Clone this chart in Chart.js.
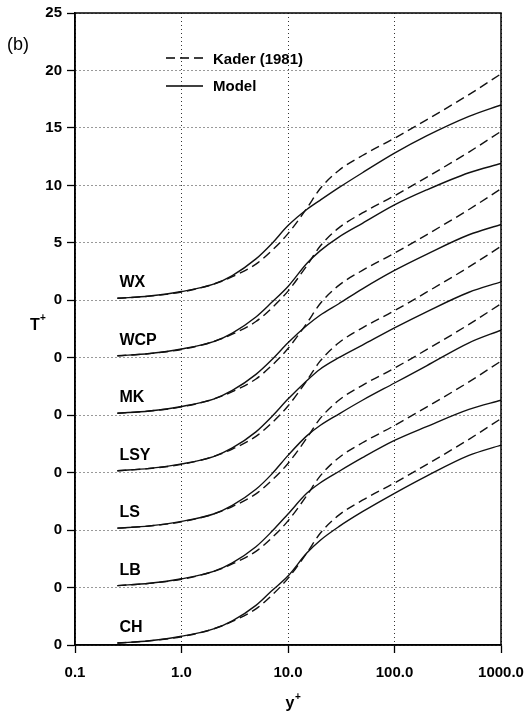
<!DOCTYPE html>
<html><head><meta charset="utf-8">
<script src="https://cdn.jsdelivr.net/npm/chart.js@4/dist/chart.umd.min.js"></script>
<style>html,body{margin:0;padding:0;background:#fff;}#wrap{width:528px;height:713px;}</style>
</head><body><div id="wrap"><canvas id="c" width="528" height="713"></canvas></div>
<script>
// ---- data ----
const yPlus   = [0.25, 0.5, 1, 2, 3, 5, 7, 10, 15, 20, 30, 50, 100, 200, 500, 1000];
const kader   = [0.17, 0.36, 0.72, 1.4, 2.05, 3.15, 4.3, 5.8, 8.0, 9.7, 11.3, 12.6, 14.1, 15.7, 17.9, 19.7];
const modelWX  = [0.17, 0.37, 0.76, 1.4, 2.15, 3.6, 4.9, 6.5, 7.9, 8.7, 9.8, 11.1, 12.8, 14.3, 16.0, 17.0];
const modelWCP = [0.17, 0.37, 0.76, 1.4, 2.15, 3.55, 4.8, 6.2, 8.2, 9.3, 10.5, 11.7, 13.3, 14.6, 16.1, 16.9];
const modelMK  = [0.17, 0.37, 0.76, 1.4, 2.15, 3.55, 4.8, 6.3, 7.8, 8.7, 9.7, 11.0, 12.6, 14.0, 15.7, 16.6];
const modelLSY = [0.17, 0.37, 0.76, 1.4, 2.15, 3.55, 4.85, 6.4, 8.0, 9.0, 10.0, 11.1, 12.6, 14.0, 15.7, 16.6];
const modelLS  = [0.17, 0.37, 0.76, 1.4, 2.15, 3.55, 4.85, 6.5, 8.2, 9.1, 10.1, 11.3, 12.8, 14.3, 16.3, 17.4];
const modelLB  = [0.17, 0.37, 0.76, 1.4, 2.15, 3.55, 4.85, 6.4, 8.2, 9.1, 10.1, 11.3, 12.8, 14.0, 15.5, 16.3];
const modelCH  = [0.17, 0.37, 0.76, 1.4, 2.1, 3.45, 4.7, 6.0, 8.0, 9.1, 10.3, 11.6, 13.2, 14.7, 16.5, 17.4];
const curveNames = ['WX', 'WCP', 'MK', 'LSY', 'LS', 'LB', 'CH'];
const models = [modelWX, modelWCP, modelMK, modelLSY, modelLS, modelLB, modelCH];
const curveShift = [0, -5, -10, -15, -20, -25, -30];
const xTicks = [0.1, 1, 10, 100, 1000];
const xTickLabels = ['0.1', '1.0', '10.0', '100.0', '1000.0'];
const yTicks = [25, 20, 15, 10, 5, 0, -5, -10, -15, -20, -25, -30];
const yTickLabels = ['25', '20', '15', '10', '5', '0', '0', '0', '0', '0', '0', '0'];
const legendLabels = ['Kader (1981)', 'Model'];

// ---- build datasets ----
const datasets = [];
models.forEach((m, i) => {
  datasets.push({
    label: 'Kader ' + curveNames[i],
    data: yPlus.map((x, j) => ({x: x, y: kader[j] + curveShift[i]})),
    borderColor: '#111', borderWidth: 1.4, borderDash: [9, 5],
    pointRadius: 0, fill: false, cubicInterpolationMode: 'monotone'
  });
  datasets.push({
    label: 'Model ' + curveNames[i],
    data: yPlus.map((x, j) => ({x: x, y: m[j] + curveShift[i]})),
    borderColor: '#111', borderWidth: 1.4,
    pointRadius: 0, fill: false, cubicInterpolationMode: 'monotone'
  });
});

const FONT = '"Liberation Sans", Arial, sans-serif';

const decor = {
  id: 'decor',
  afterDraw(chart) {
    const {ctx, chartArea: ca, scales: {x, y}} = chart;
    ctx.save();
    // frame
    ctx.strokeStyle = '#000'; ctx.lineWidth = 1.5; ctx.setLineDash([]);
    ctx.strokeRect(ca.left, ca.top, ca.right - ca.left, ca.bottom - ca.top);
    ctx.fillStyle = '#000';
    // curve labels
    ctx.font = 'bold 16px ' + FONT;
    ctx.textBaseline = 'middle'; ctx.textAlign = 'left';
    const lx = x.getPixelForValue(yPlus[0]) + 2;
    curveNames.forEach((n, i) => {
      ctx.fillText(n, lx, y.getPixelForValue(curveShift[i] + 1.5));
    });
    // legend
    const l0 = 166, l1 = 203, ly1 = 58, ly2 = 86;
    ctx.lineWidth = 1.4;
    ctx.setLineDash([9, 5]);
    ctx.beginPath(); ctx.moveTo(l0, ly1); ctx.lineTo(l1, ly1); ctx.stroke();
    ctx.setLineDash([]);
    ctx.beginPath(); ctx.moveTo(l0, ly2); ctx.lineTo(l1, ly2); ctx.stroke();
    ctx.font = 'bold 15px ' + FONT;
    ctx.fillText(legendLabels[0], 213, ly1 + 2);
    ctx.fillText(legendLabels[1], 213, ly2 + 1);
    // panel tag
    ctx.font = '18px ' + FONT;
    ctx.fillText('(b)', 7, 45);
    // axis titles
    ctx.font = 'bold 16px ' + FONT;
    ctx.textAlign = 'center';
    ctx.fillText('T', 35, 326);
    ctx.fillText('y', 290, 704);
    ctx.font = 'bold 10px ' + FONT;
    ctx.fillText('+', 43, 318);
    ctx.fillText('+', 298, 697);
    ctx.restore();
  }
};

new Chart(document.getElementById('c'), {
  type: 'line',
  data: {datasets},
  plugins: [decor],
  options: {
    responsive: false, animation: false, devicePixelRatio: 1,
    layout: {padding: {left: 0, right: 27, top: 13, bottom: 0}},
    plugins: {legend: {display: false}, tooltip: {enabled: false}},
    scales: {
      x: {
        type: 'logarithmic', min: 0.1, max: 1000,
        afterBuildTicks: s => { s.ticks = xTicks.map(v => ({value: v})); },
        afterFit: s => { s.height = 68; s.paddingLeft = 0; s.paddingRight = 0; },
        ticks: {
          autoSkip: false, maxRotation: 0, padding: 11, color: '#000',
          font: {family: FONT, size: 15, weight: 'bold'},
          callback: (v) => { const k = xTicks.findIndex(t => Math.abs(t - v) < 1e-9 * Math.max(1, t)); return k >= 0 ? xTickLabels[k] : ''; }
        },
        grid: {color: '#333', lineWidth: 1, tickColor: '#000', tickLength: 8, tickWidth: 1.3, tickBorderDash: []},
        border: {display: true, color: '#000', width: 1.5, dash: [1, 3]}
      },
      y: {
        type: 'linear', min: -30, max: 25,
        afterBuildTicks: s => { s.ticks = yTicks.map(v => ({value: v})); },
        afterFit: s => { s.width = 75; s.paddingTop = 0; s.paddingBottom = 0; },
        ticks: {
          autoSkip: false, padding: 5, color: '#000',
          font: {family: FONT, size: 15, weight: 'bold'},
          callback: (v) => { const k = yTicks.indexOf(v); return k >= 0 ? yTickLabels[k] : ''; }
        },
        grid: {color: '#333', lineWidth: 1, tickColor: '#000', tickLength: 8, tickWidth: 1.3, tickBorderDash: []},
        border: {display: true, color: '#000', width: 1.5, dash: [1, 3]}
      }
    }
  }
});
</script>
</body></html>
